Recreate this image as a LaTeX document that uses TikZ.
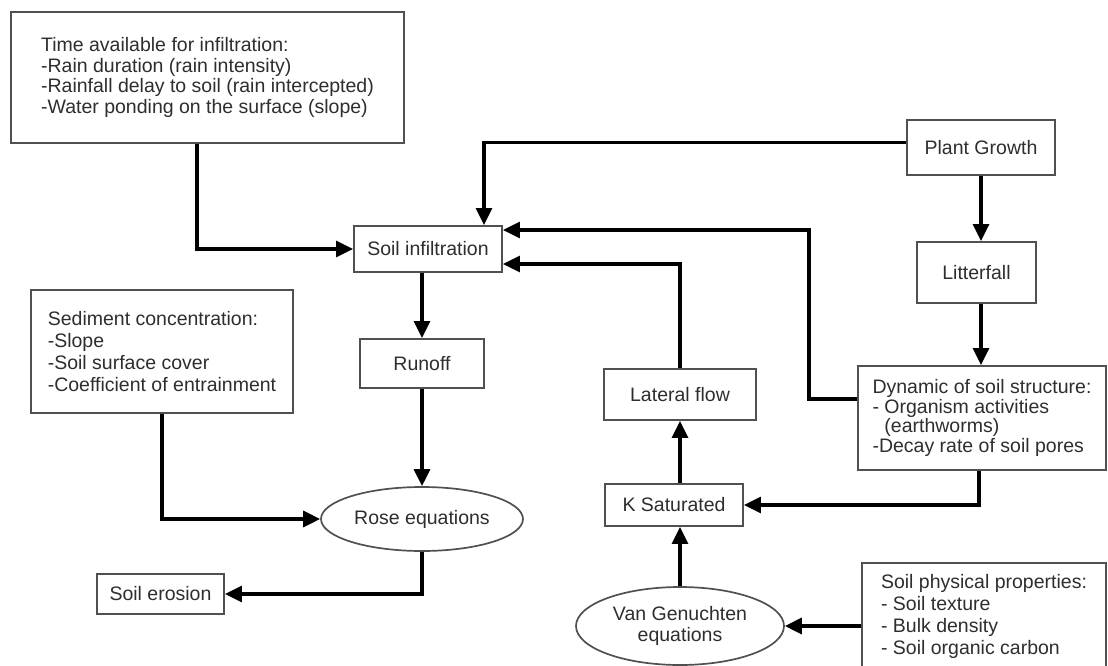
\documentclass[tikz,border=0pt]{standalone}
\usepackage{fontspec}
\setmainfont{Liberation Sans}
\usetikzlibrary{arrows.meta,shapes.geometric}
\definecolor{txt}{HTML}{2E2E2E}
\definecolor{bord}{HTML}{505050}
\tikzset{
  box/.style={draw=bord,line width=1.9pt,rectangle,inner sep=0pt,align=left,text=txt,
    font=\fontsize{19.5}{20.5}\selectfont},
  oval/.style={draw=bord,line width=1.7pt,ellipse,inner sep=0pt,align=center,text=txt,
    font=\fontsize{19.5}{21}\selectfont},
  conn/.style={line width=3.2pt,black,-{Triangle[length=17pt,width=16pt]}},
}
\begin{document}
\begin{tikzpicture}[x=1pt,y=-1pt]
\useasboundingbox (0,0) rectangle (1108,666);
\clip (0,0) rectangle (1108,666);
\fill[white] (0,0) rectangle (1108,666);

\node[box,minimum width=393pt,minimum height=131pt] (time) at (207.5,77.5)
  {Time available for infiltration:\\-Rain duration (rain intensity)\\-Rainfall delay to soil (rain intercepted)\\-Water ponding on the surface (slope)};
\node[box,minimum width=262pt,minimum height=123pt,font=\fontsize{19.5}{22}\selectfont] (sed) at (162,351.5)
  {Sediment concentration:\\-Slope\\-Soil surface cover\\-Coefficient of entrainment};
\node[box,minimum width=148pt,minimum height=46pt] (infil) at (428,249) {Soil infiltration};
\node[box,minimum width=124pt,minimum height=49pt] (runoff) at (422,363.5) {Runoff};
\node[oval,minimum width=202pt,minimum height=64pt] (rose) at (422,519) {Rose equations};
\node[box,minimum width=127pt,minimum height=40pt] (erosion) at (160.5,594) {Soil erosion};
\node[box,minimum width=148pt,minimum height=55pt] (plant) at (981,147.5) {Plant Growth};
\node[box,minimum width=119pt,minimum height=61pt] (litter) at (976.5,272.5) {Litterfall};
\node[box,minimum width=248pt,minimum height=104pt,font=\fontsize{19.5}{19.5}\selectfont] (dyn) at (982,418)
  {Dynamic of soil structure:\\- Organism activities\\\phantom{- }(earthworms)\\-Decay rate of soil pores};
\node[box,minimum width=152pt,minimum height=51pt] (lat) at (680,394.5) {Lateral flow};
\node[box,minimum width=138pt,minimum height=42pt] (ksat) at (674,505) {K Saturated};
\node[oval,minimum width=208pt,minimum height=78pt] (vg) at (680,626) {Van Genuchten\\equations};
\node[box,minimum width=244pt,minimum height=107pt,font=\fontsize{19.5}{22.3}\selectfont] (phys) at (984,616.5)
  {Soil physical properties:\\- Soil texture\\- Bulk density\\- Soil organic carbon};

\coordinate (tdown) at (time.south -| 197,0);
\draw[conn] (tdown) |- (infil.west);
\coordinate (pgl) at ([yshift=5pt]plant.west);
\coordinate (inTop) at (484,0);
\draw[conn] (pgl) -| (inTop |- infil.north);
\draw[conn] (plant.south) -- (plant.south |- litter.north);
\draw[conn] (litter.south -| plant.south) -- (plant.south |- dyn.north);
\coordinate (dynl) at ([yshift=19pt]dyn.west);
\coordinate (dynx) at (809,0);
\coordinate (infA) at ([yshift=19pt]infil.east);
\coordinate (infB) at ([yshift=-15pt]infil.east);
\draw[conn] (dynl) -| (dynx |- infA) -- (infA);
\draw[conn] (lat.north) |- (infB);
\draw[conn] (infil.south -| runoff.north) -- (runoff.north);
\draw[conn] (runoff.south) -- (rose.north);
\draw[conn] (sed.south) |- (rose.west);
\draw[conn] (rose.south) |- (erosion.east);
\draw[conn] (dyn.south -| 979,0) |- (ksat.east);
\draw[conn] (ksat.north -| lat.south) -- (lat.south);
\draw[conn] (vg.north) -- (vg.north |- ksat.south);
\draw[conn] (phys.west |- vg.east) -- (vg.east);
\end{tikzpicture}
\end{document}
